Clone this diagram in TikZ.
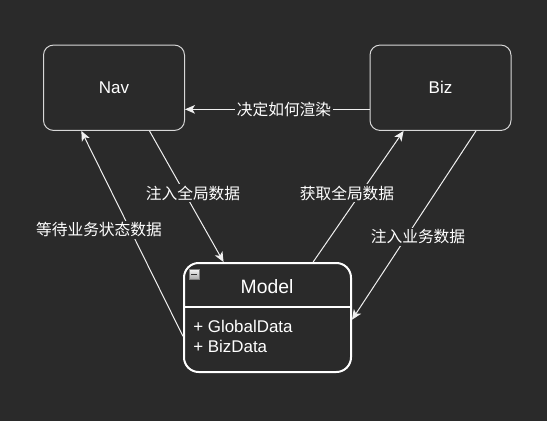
\documentclass[tikz,border=0pt]{standalone}
\usepackage{fontspec}
\setmainfont{Liberation Sans}
\newfontfamily\cjk{Noto Sans CJK SC}
\usetikzlibrary{arrows.meta,calc}
\definecolor{canvas}{HTML}{2A2A2A}
\definecolor{edgecol}{HTML}{F0F0F0}
\definecolor{boxcol}{HTML}{D8D8D8}
\begin{document}
\begin{tikzpicture}[x=0.75pt,y=-0.75pt,
  box/.style={draw=boxcol,line width=0.75pt,rounded corners=7.5pt,minimum width=105.75pt,minimum height=64pt,inner sep=0pt,text=white,font=\fontsize{12.75}{15}\selectfont},
  umlbox/.style={draw=white,line width=1.5pt,rounded corners=11pt,minimum width=125.25pt,minimum height=81.75pt,inner sep=0pt},
  flow/.style={draw=edgecol,line width=0.75pt,-{Stealth[length=7.5pt,width=6.5pt,inset=2pt]}},
  lbl/.style={fill=canvas,text=white,inner sep=1pt,font=\cjk\fontsize{11.8}{14}\selectfont},
  member/.style={anchor=west,text=white,inner sep=0pt,font=\fontsize{12.7}{15}\selectfont}]
\fill[canvas] (0,0) rectangle (547,421);
\node[box] (nav) at (114,87.75) {Nav};
\node[box] (biz) at (440.5,87.75) {Biz};
\node[umlbox] (model) at (267.5,317.5) {};
\coordinate (hdr) at (0,307);
\draw[white,line width=1.5pt] (model.west |- hdr) -- (model.east |- hdr);
\node[text=white,inner sep=0pt,font=\fontsize{14.5}{17}\selectfont] (mtitle) at (267,287) {Model};
\node[draw=gray,top color=white!90!gray,bottom color=gray!70,minimum size=7.5pt,inner sep=0pt] (fold) at (194,274.5) {};
\draw[black!80,line width=1.3pt] ($(fold.west)+(1.8pt,0)$) -- ($(fold.east)+(-1.8pt,0)$);
\node[member] (m1) at (193,326) {+ GlobalData};
\node[member] (m2) at (193,346) {+ BizData};
\draw[flow] ($(biz.north west)!0.75!(biz.south west)$) -- ($(nav.north east)!0.75!(nav.south east)$);
\draw[flow] ($(nav.south west)!0.75!(nav.south east)$) -- ($(model.north west)!0.24!(model.north east)$);
\draw[flow] ($(model.north west)!0.77!(model.north east)$) -- ($(biz.south west)!0.24!(biz.south east)$);
\draw[flow] ($(biz.south west)!0.75!(biz.south east)$) -- ($(model.north east)!0.52!(model.south east)$);
\draw[flow] ($(model.north west)!0.67!(model.south west)$) -- ($(nav.south west)!0.27!(nav.south east)$);
\node[lbl] (l1) at (284,109) {决定如何渲染};
\node[lbl] (l2) at (193,193) {注入全局数据};
\node[lbl] (l3) at (347,193) {获取全局数据};
\node[lbl] (l4) at (418,237) {注入业务数据};
\node[lbl] (l5) at (99,230) {等待业务状态数据};
\end{tikzpicture}
\end{document}
